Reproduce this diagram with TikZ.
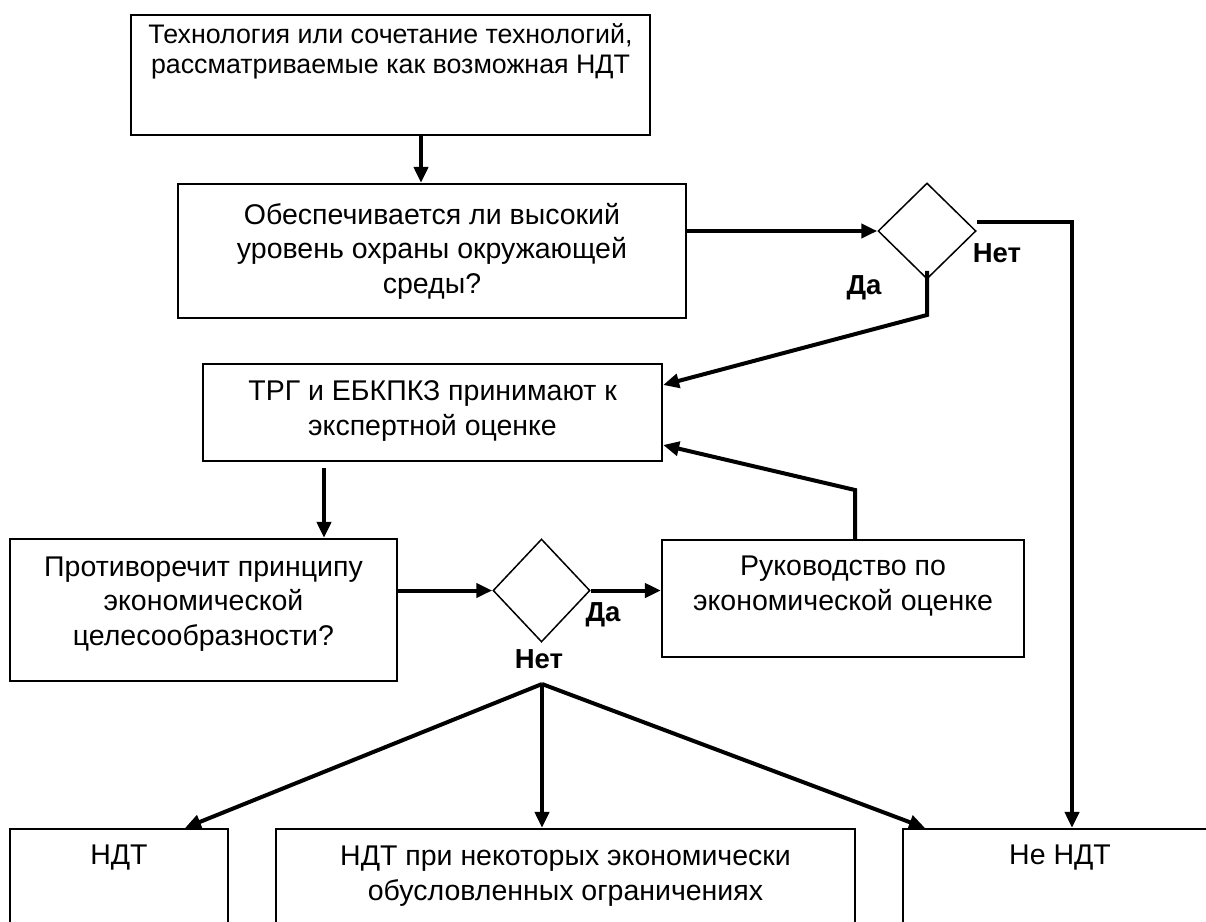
\documentclass[tikz,border=0pt]{standalone}
\usepackage{fontspec}
\setmainfont{Liberation Sans}
\usetikzlibrary{arrows.meta,shapes.geometric}

\tikzset{
  box/.style={draw, line width=2.2pt, rectangle, inner sep=0pt},
  dia/.style={draw, line width=1.5pt, diamond, inner sep=0pt},
  txt/.style={align=center, inner sep=0pt, font=\fontsize{28.5}{34.5}\selectfont},
  toptxt/.style={align=center, inner sep=0pt, font=\fontsize{26.8}{30}\selectfont},
  lbl/.style={inner sep=0pt, font=\fontsize{27.5}{30}\selectfont\bfseries},
  arr/.style={line width=4pt, -{Triangle[length=16pt,width=14pt]}}
}

\begin{document}
\begin{tikzpicture}[x=1pt,y=-1pt]
\useasboundingbox (0,0) rectangle (1206,921);
\clip (0,0) rectangle (1206,921);
\fill[white] (0,0) rectangle (1206,921);

% boxes
\node[box, minimum width=519pt, minimum height=120pt] (b1) at (390.5,75) {};
\node[box, minimum width=508pt, minimum height=134pt] (b2) at (432,251) {};
\node[box, minimum width=459pt, minimum height=97pt] (b3) at (432.5,412.5) {};
\node[box, minimum width=387pt, minimum height=142pt] (b4) at (203.5,610) {};
\node[box, minimum width=362pt, minimum height=117pt] (b5) at (843,598.5) {};
\node[box, minimum width=218pt, minimum height=110pt] (b6) at (119,884) {};
\node[box, minimum width=579pt, minimum height=110pt] (b7) at (565.5,884) {};
\node[box, minimum width=314pt, minimum height=110pt] (b8) at (1060,884) {};

% decision diamonds
\node[dia, minimum width=98pt, minimum height=96pt] (d1) at (927,231) {};
\node[dia, minimum width=97pt, minimum height=103pt] (d2) at (541.5,590.5) {};

% box texts
\node[toptxt] (t1) at (390.5,51) {Технология или сочетание технологий,\\рассматриваемые как возможная НДТ};
\node[txt] (t2) at (432,251) {Обеспечивается ли высокий\\уровень охраны окружающей\\среды?};
\node[txt] (t3) at (432.5,411) {ТРГ и ЕБКПКЗ принимают к\\экспертной оценке};
\node[txt] (t4) at (203.5,604) {Противоречит принципу\\экономической\\целесообразности?};
\node[txt] (t5) at (843,586) {Руководство по\\экономической оценке};
\node[txt] (t6) at (119,858) {НДТ};
\node[txt] (t7) at (565.5,876) {НДТ при некоторых экономически\\обусловленных ограничениях};
\node[txt] (t8) at (1060,858) {Не НДТ};

% answer labels
\node[lbl] (no1) at (997,253) {Нет};
\node[lbl] (yes1) at (864,288) {Да};
\node[lbl] (yes2) at (603,615) {Да};
\node[lbl] (no2) at (539,659) {Нет};

% turning points
\coordinate (x1) at (421,0);
\coordinate (x2) at (324,0);
\coordinate (k1) at (927,315);
\coordinate (k2) at (855,490);
\coordinate (br) at (542,684);

% connectors
\draw[arr] (b1.south -| x1) -- (b2.north -| x1);
\draw[arr] (b2.east |- d1.west) -- (d1.west);
\draw[arr] ([yshift=9pt]d1.east) -| ([xshift=12pt]b8.north);
\draw[arr] ([yshift=9pt]d1.south) -- (k1) -- ([yshift=27.5pt]b3.east);
\draw[arr] (b5.north -| k2) -- (k2) -- ([yshift=-32.5pt]b3.east);
\draw[arr, shorten <=6pt] (b3.south -| x2) -- (b4.north -| x2);
\draw[arr] (b4.east |- d2.west) -- (d2.west);
\draw[arr] (d2.east) -- (b5.west |- d2.east);
\draw[arr] (br) -- ([xshift=66pt]b6.north);
\draw[arr] (br) -- (b7.north -| br);
\draw[arr] (br) -- ([xshift=-135pt]b8.north);
\end{tikzpicture}
\end{document}
